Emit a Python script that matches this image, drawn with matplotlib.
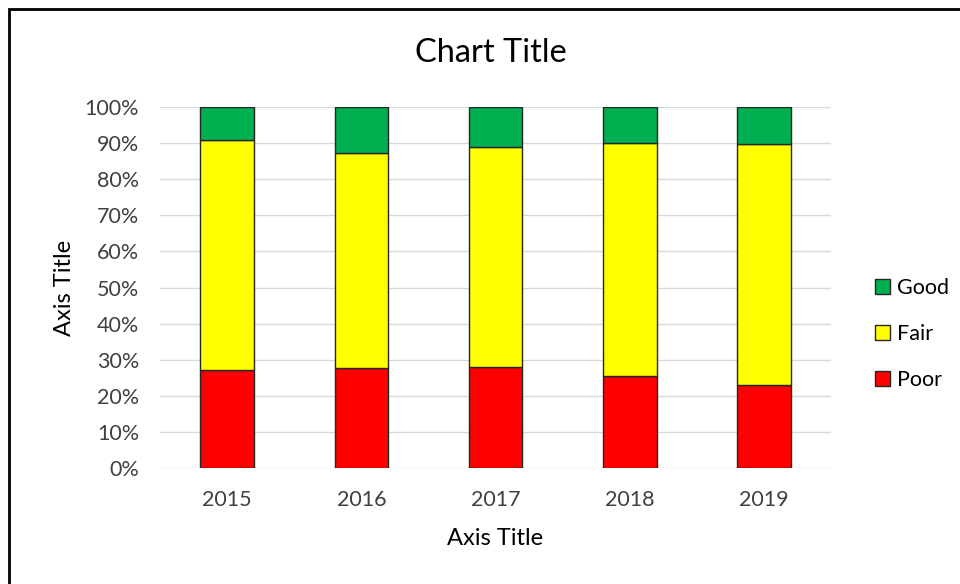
import matplotlib
matplotlib.use("Agg")
import matplotlib.pyplot as plt
from matplotlib.patches import Rectangle, Patch
from matplotlib.ticker import PercentFormatter

years = ["2015", "2016", "2017", "2018", "2019"]
poor = [27.2, 27.6, 28.0, 25.5, 23.0]
fair = [63.7, 59.7, 61.0, 64.6, 66.75]
good = [9.1, 12.7, 11.0, 9.9, 10.25]

plt.rcParams['font.family'] = ['Lato', 'DejaVu Sans']

fig = plt.figure(figsize=(9.6, 5.84), dpi=100)
ax = fig.add_axes([0.1667, 0.1986, 0.699, 0.6182])

x = range(len(years))
w = 0.40
ec = '#262626'
ax.bar(x, poor, w, color='#FF0000', edgecolor=ec, linewidth=1, label='Poor', zorder=3)
ax.bar(x, fair, w, bottom=poor, color='#FFFF00', edgecolor=ec, linewidth=1, label='Fair', zorder=3)
bottom3 = [p + f for p, f in zip(poor, fair)]
ax.bar(x, good, w, bottom=bottom3, color='#00B050', edgecolor=ec, linewidth=1, label='Good', zorder=3)

ax.set_xlim(-0.5, len(years) - 0.5)
ax.set_ylim(0, 100)
ax.set_yticks(range(0, 101, 10))
ax.yaxis.set_major_formatter(PercentFormatter(decimals=0))
ax.set_xticks(list(x))
ax.set_xticklabels(years)
ax.tick_params(axis='both', length=0, labelsize=15.5, colors='#404040')
ax.tick_params(axis='y', pad=15)
ax.tick_params(axis='x', pad=16)
ax.grid(axis='y', color='#d9d9d9', linewidth=1, zorder=0)
for s in ax.spines.values():
    s.set_visible(False)

ax.set_xlabel('Axis Title', fontsize=17, color='#000000')
ax.set_ylabel('Axis Title', fontsize=17, color='#000000')
ax.xaxis.set_label_coords(0.5, -0.165)
ax.yaxis.set_label_coords(-0.126, 0.5)
fig.text(0.511, 0.909, 'Chart Title', ha='center', va='center', fontsize=23.5, color='#000000')

handles = [Patch(facecolor='#00B050', edgecolor=ec, label='Good'),
           Patch(facecolor='#FFFF00', edgecolor=ec, label='Fair'),
           Patch(facecolor='#FF0000', edgecolor=ec, label='Poor')]
fig.legend(handles=handles, loc='center left', bbox_to_anchor=(0.911, 0.428),
           frameon=False, fontsize=15.5, handlelength=0.7, handleheight=0.7,
           handletextpad=0.35, labelspacing=1.2, borderpad=0, borderaxespad=0)

fig.patches.append(Rectangle((9 / 960, -0.05), 1.2, 1.05 - 9 / 584, transform=fig.transFigure,
                             fill=False, edgecolor='#000000', linewidth=2))

fig.savefig('out.png', dpi=100)
